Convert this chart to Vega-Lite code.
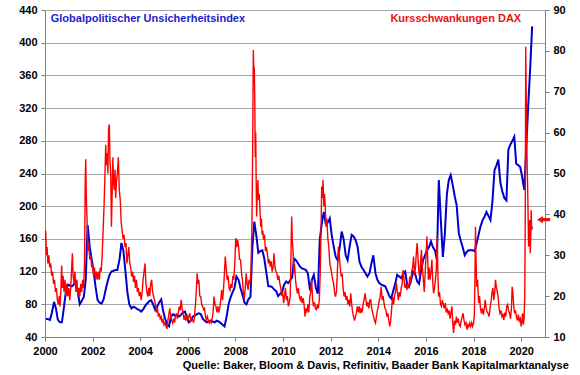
{
"$schema":"https://vega.github.io/schema/vega-lite/v6.json",
"width":500,"height":327,
"autosize":{"type":"none"},
"padding":{"left":45,"top":10,"right":35,"bottom":38},
"background":"white",
"config":{"view":{"stroke":null},"font":"Liberation Sans","axis":{"labelFont":"Liberation Sans","labelFontWeight":"bold","labelFontSize":11,"labelColor":"#000000","tickColor":"#808080","domainColor":"#808080","tickSize":4,"labelPadding":4,"labelOverlap":false,"title":null}},
"datasets":{
"gepu":[
{"t":2000.04,"u":62},{"t":2000.12,"u":62},{"t":2000.21,"u":61},{"t":2000.29,"u":70},{"t":2000.38,"u":83},{"t":2000.46,"u":75},{"t":2000.54,"u":61},{"t":2000.63,"u":58},{"t":2000.71,"u":58},{"t":2000.79,"u":75},{"t":2000.88,"u":96},{"t":2000.96,"u":104},
{"t":2001.04,"u":103},{"t":2001.13,"u":102},{"t":2001.21,"u":104},{"t":2001.29,"u":108},{"t":2001.38,"u":95},{"t":2001.46,"u":80},{"t":2001.54,"u":84},{"t":2001.63,"u":89},{"t":2001.71,"u":110},{"t":2001.79,"u":177},{"t":2001.88,"u":150},{"t":2001.96,"u":135},
{"t":2002.04,"u":120},{"t":2002.13,"u":100},{"t":2002.21,"u":85},{"t":2002.29,"u":82},{"t":2002.38,"u":81},{"t":2002.46,"u":86},{"t":2002.54,"u":97},{"t":2002.63,"u":108},{"t":2002.71,"u":116},{"t":2002.79,"u":120},{"t":2002.88,"u":121},{"t":2002.96,"u":122},
{"t":2003.04,"u":122},{"t":2003.13,"u":135},{"t":2003.21,"u":155},{"t":2003.29,"u":146},{"t":2003.38,"u":120},{"t":2003.46,"u":95},{"t":2003.54,"u":80},{"t":2003.63,"u":75},{"t":2003.71,"u":77},{"t":2003.79,"u":76},{"t":2003.88,"u":74},{"t":2003.96,"u":73},
{"t":2004.04,"u":71},{"t":2004.13,"u":74},{"t":2004.21,"u":78},{"t":2004.29,"u":81},{"t":2004.38,"u":84},{"t":2004.46,"u":85},{"t":2004.54,"u":80},{"t":2004.63,"u":73},{"t":2004.71,"u":77},{"t":2004.79,"u":82},{"t":2004.88,"u":86},{"t":2004.96,"u":72},
{"t":2005.04,"u":63},{"t":2005.13,"u":55},{"t":2005.21,"u":53},{"t":2005.29,"u":65},{"t":2005.38,"u":68},{"t":2005.46,"u":66},{"t":2005.54,"u":67},{"t":2005.63,"u":65},{"t":2005.71,"u":67},{"t":2005.79,"u":70},{"t":2005.88,"u":71},{"t":2005.96,"u":64},
{"t":2006.04,"u":58},{"t":2006.13,"u":60},{"t":2006.21,"u":65},{"t":2006.29,"u":66},{"t":2006.38,"u":68},{"t":2006.46,"u":69},{"t":2006.54,"u":68},{"t":2006.63,"u":62},{"t":2006.71,"u":60},{"t":2006.79,"u":58},{"t":2006.88,"u":59},{"t":2006.96,"u":60},
{"t":2007.04,"u":59},{"t":2007.13,"u":58},{"t":2007.21,"u":60},{"t":2007.29,"u":59},{"t":2007.38,"u":57},{"t":2007.46,"u":55},{"t":2007.54,"u":53},{"t":2007.63,"u":65},{"t":2007.71,"u":80},{"t":2007.79,"u":88},{"t":2007.88,"u":95},{"t":2007.96,"u":100},
{"t":2008.04,"u":114},{"t":2008.13,"u":110},{"t":2008.21,"u":100},{"t":2008.29,"u":92},{"t":2008.38,"u":82},{"t":2008.46,"u":80},{"t":2008.54,"u":86},{"t":2008.63,"u":89},{"t":2008.71,"u":150},{"t":2008.79,"u":181},{"t":2008.88,"u":163},{"t":2008.96,"u":143},
{"t":2009.04,"u":145},{"t":2009.13,"u":146},{"t":2009.21,"u":136},{"t":2009.29,"u":120},{"t":2009.38,"u":102},{"t":2009.46,"u":102},{"t":2009.54,"u":101},{"t":2009.63,"u":98},{"t":2009.71,"u":96},{"t":2009.79,"u":90},{"t":2009.88,"u":93},{"t":2009.96,"u":95},
{"t":2010.04,"u":104},{"t":2010.13,"u":108},{"t":2010.21,"u":106},{"t":2010.29,"u":109},{"t":2010.38,"u":113},{"t":2010.46,"u":136},{"t":2010.54,"u":134},{"t":2010.63,"u":130},{"t":2010.71,"u":126},{"t":2010.79,"u":124},{"t":2010.88,"u":123},{"t":2010.96,"u":122},
{"t":2011.04,"u":118},{"t":2011.13,"u":97},{"t":2011.21,"u":110},{"t":2011.29,"u":116},{"t":2011.38,"u":100},{"t":2011.46,"u":93},{"t":2011.54,"u":159},{"t":2011.63,"u":180},{"t":2011.71,"u":193},{"t":2011.79,"u":179},{"t":2011.88,"u":180},{"t":2011.96,"u":185},
{"t":2012.04,"u":165},{"t":2012.13,"u":150},{"t":2012.21,"u":138},{"t":2012.29,"u":134},{"t":2012.38,"u":150},{"t":2012.46,"u":169},{"t":2012.54,"u":160},{"t":2012.63,"u":140},{"t":2012.71,"u":134},{"t":2012.79,"u":150},{"t":2012.88,"u":165},{"t":2012.96,"u":163},
{"t":2013.04,"u":159},{"t":2013.13,"u":150},{"t":2013.21,"u":132},{"t":2013.29,"u":126},{"t":2013.38,"u":122},{"t":2013.46,"u":118},{"t":2013.54,"u":114},{"t":2013.63,"u":118},{"t":2013.71,"u":130},{"t":2013.79,"u":140},{"t":2013.88,"u":118},{"t":2013.96,"u":110},
{"t":2014.04,"u":106},{"t":2014.13,"u":104},{"t":2014.21,"u":103},{"t":2014.29,"u":102},{"t":2014.38,"u":96},{"t":2014.46,"u":90},{"t":2014.54,"u":87},{"t":2014.63,"u":97},{"t":2014.71,"u":105},{"t":2014.79,"u":116},{"t":2014.88,"u":114},{"t":2014.96,"u":112},
{"t":2015.04,"u":117},{"t":2015.13,"u":120},{"t":2015.21,"u":104},{"t":2015.29,"u":101},{"t":2015.38,"u":110},{"t":2015.46,"u":120},{"t":2015.54,"u":118},{"t":2015.63,"u":108},{"t":2015.71,"u":105},{"t":2015.79,"u":120},{"t":2015.88,"u":134},{"t":2015.96,"u":140},
{"t":2016.04,"u":146},{"t":2016.13,"u":150},{"t":2016.21,"u":157},{"t":2016.29,"u":150},{"t":2016.38,"u":146},{"t":2016.46,"u":134},{"t":2016.54,"u":232},{"t":2016.63,"u":180},{"t":2016.71,"u":138},{"t":2016.79,"u":165},{"t":2016.88,"u":215},{"t":2016.96,"u":232},
{"t":2017.04,"u":238},{"t":2017.13,"u":225},{"t":2017.21,"u":212},{"t":2017.29,"u":201},{"t":2017.38,"u":167},{"t":2017.46,"u":158},{"t":2017.54,"u":150},{"t":2017.63,"u":140},{"t":2017.71,"u":144},{"t":2017.79,"u":146},{"t":2017.88,"u":146},{"t":2017.96,"u":146},
{"t":2018.04,"u":145},{"t":2018.13,"u":155},{"t":2018.21,"u":165},{"t":2018.29,"u":175},{"t":2018.38,"u":183},{"t":2018.46,"u":187},{"t":2018.54,"u":193},{"t":2018.63,"u":188},{"t":2018.71,"u":183},{"t":2018.79,"u":205},{"t":2018.88,"u":244},{"t":2018.96,"u":250},
{"t":2019.04,"u":257},{"t":2019.13,"u":228},{"t":2019.21,"u":218},{"t":2019.29,"u":210},{"t":2019.38,"u":207},{"t":2019.46,"u":269},{"t":2019.54,"u":275},{"t":2019.63,"u":280},{"t":2019.71,"u":285},{"t":2019.79,"u":252},{"t":2019.88,"u":250},{"t":2019.96,"u":248},
{"t":2020.04,"u":236},{"t":2020.13,"u":220},{"t":2020.21,"u":270},{"t":2020.29,"u":320},{"t":2020.38,"u":370},{"t":2020.46,"u":420}
],
"vdax":[
{"t":2000.00,"v":34},{"t":2000.03,"v":36},{"t":2000.06,"v":30},{"t":2000.09,"v":32},{"t":2000.12,"v":28},{"t":2000.16,"v":30},{"t":2000.20,"v":27},{"t":2000.24,"v":28},{"t":2000.28,"v":25},{"t":2000.32,"v":26},{"t":2000.36,"v":23},{"t":2000.40,"v":24},{"t":2000.44,"v":21},{"t":2000.48,"v":22},{"t":2000.52,"v":19},{"t":2000.56,"v":18},{"t":2000.60,"v":20},{"t":2000.63,"v":17.5},{"t":2000.67,"v":22},{"t":2000.70,"v":27.5},{"t":2000.73,"v":22},{"t":2000.76,"v":25},{"t":2000.80,"v":21},{"t":2000.84,"v":24},{"t":2000.88,"v":20},{"t":2000.92,"v":23},{"t":2000.96,"v":20},
{"t":2001.00,"v":22},{"t":2001.04,"v":19},{"t":2001.08,"v":22},{"t":2001.12,"v":27},{"t":2001.15,"v":30.5},{"t":2001.18,"v":25},{"t":2001.22,"v":23},{"t":2001.26,"v":26},{"t":2001.30,"v":21},{"t":2001.34,"v":24},{"t":2001.38,"v":20},{"t":2001.42,"v":22},{"t":2001.46,"v":20},{"t":2001.50,"v":23},{"t":2001.54,"v":21},{"t":2001.58,"v":24},{"t":2001.62,"v":22},{"t":2001.66,"v":28},{"t":2001.69,"v":48},{"t":2001.71,"v":53.5},{"t":2001.74,"v":43},{"t":2001.77,"v":38},{"t":2001.80,"v":31},{"t":2001.84,"v":33},{"t":2001.88,"v":29},{"t":2001.92,"v":30},{"t":2001.96,"v":27},
{"t":2002.00,"v":28},{"t":2002.04,"v":25},{"t":2002.08,"v":27},{"t":2002.12,"v":24},{"t":2002.16,"v":26},{"t":2002.20,"v":24},{"t":2002.24,"v":26},{"t":2002.28,"v":24},{"t":2002.32,"v":27},{"t":2002.36,"v":26},{"t":2002.40,"v":30},{"t":2002.44,"v":36},{"t":2002.48,"v":42},{"t":2002.52,"v":50},{"t":2002.55,"v":57},{"t":2002.58,"v":52},{"t":2002.61,"v":55},{"t":2002.64,"v":50},{"t":2002.67,"v":61},{"t":2002.70,"v":62},{"t":2002.73,"v":53},{"t":2002.76,"v":50},{"t":2002.79,"v":37},{"t":2002.82,"v":45},{"t":2002.85,"v":54},{"t":2002.88,"v":48},{"t":2002.91,"v":46},{"t":2002.94,"v":51},{"t":2002.97,"v":44},
{"t":2003.00,"v":48},{"t":2003.04,"v":50},{"t":2003.08,"v":54},{"t":2003.12,"v":46},{"t":2003.16,"v":43.5},{"t":2003.20,"v":38},{"t":2003.24,"v":36},{"t":2003.28,"v":34},{"t":2003.32,"v":35},{"t":2003.36,"v":32},{"t":2003.40,"v":33},{"t":2003.44,"v":28},{"t":2003.48,"v":30},{"t":2003.52,"v":32},{"t":2003.56,"v":28},{"t":2003.60,"v":27},{"t":2003.64,"v":24.8},{"t":2003.68,"v":26},{"t":2003.72,"v":23.5},{"t":2003.76,"v":25},{"t":2003.80,"v":22},{"t":2003.84,"v":24},{"t":2003.88,"v":21},{"t":2003.92,"v":22},{"t":2003.96,"v":20},
{"t":2004.00,"v":21},{"t":2004.04,"v":19},{"t":2004.08,"v":21},{"t":2004.12,"v":24},{"t":2004.16,"v":26},{"t":2004.20,"v":28},{"t":2004.24,"v":23},{"t":2004.28,"v":21},{"t":2004.32,"v":19.9},{"t":2004.36,"v":22},{"t":2004.40,"v":20},{"t":2004.44,"v":23},{"t":2004.48,"v":24},{"t":2004.52,"v":21},{"t":2004.56,"v":20},{"t":2004.60,"v":19},{"t":2004.64,"v":18},{"t":2004.68,"v":16},{"t":2004.72,"v":17},{"t":2004.76,"v":15},{"t":2004.80,"v":15.8},{"t":2004.84,"v":14.5},{"t":2004.88,"v":15},{"t":2004.92,"v":13.5},{"t":2004.96,"v":14.2},
{"t":2005.00,"v":13},{"t":2005.04,"v":13.5},{"t":2005.08,"v":12.6},{"t":2005.12,"v":12},{"t":2005.16,"v":14},{"t":2005.20,"v":15.5},{"t":2005.24,"v":17},{"t":2005.28,"v":15},{"t":2005.32,"v":14},{"t":2005.36,"v":13.4},{"t":2005.40,"v":14.5},{"t":2005.44,"v":13.5},{"t":2005.48,"v":15},{"t":2005.52,"v":15.8},{"t":2005.56,"v":14.5},{"t":2005.60,"v":16},{"t":2005.64,"v":17.5},{"t":2005.68,"v":16.5},{"t":2005.72,"v":19.1},{"t":2005.76,"v":17},{"t":2005.80,"v":16},{"t":2005.84,"v":14.2},{"t":2005.88,"v":15},{"t":2005.92,"v":14},{"t":2005.96,"v":15.5},
{"t":2006.00,"v":14.5},{"t":2006.04,"v":15},{"t":2006.08,"v":15.8},{"t":2006.12,"v":14},{"t":2006.16,"v":14.5},{"t":2006.20,"v":14.2},{"t":2006.24,"v":13.5},{"t":2006.28,"v":15},{"t":2006.32,"v":18},{"t":2006.36,"v":22},{"t":2006.39,"v":25.6},{"t":2006.42,"v":23},{"t":2006.46,"v":24},{"t":2006.50,"v":20},{"t":2006.54,"v":19.9},{"t":2006.58,"v":18},{"t":2006.62,"v":17.5},{"t":2006.66,"v":16.7},{"t":2006.70,"v":17},{"t":2006.74,"v":15},{"t":2006.78,"v":14.2},{"t":2006.82,"v":15},{"t":2006.86,"v":14},{"t":2006.90,"v":13.4},{"t":2006.94,"v":14},{"t":2006.98,"v":13.5},
{"t":2007.02,"v":14.5},{"t":2007.06,"v":16},{"t":2007.10,"v":19.9},{"t":2007.14,"v":18},{"t":2007.18,"v":17.5},{"t":2007.22,"v":16},{"t":2007.26,"v":17.5},{"t":2007.30,"v":16},{"t":2007.34,"v":17},{"t":2007.38,"v":19},{"t":2007.42,"v":21.5},{"t":2007.46,"v":19},{"t":2007.50,"v":22},{"t":2007.54,"v":26},{"t":2007.57,"v":29.7},{"t":2007.61,"v":27},{"t":2007.65,"v":24},{"t":2007.69,"v":25},{"t":2007.73,"v":22},{"t":2007.77,"v":21.5},{"t":2007.81,"v":23},{"t":2007.85,"v":22},{"t":2007.89,"v":25},{"t":2007.93,"v":24},{"t":2007.97,"v":28},
{"t":2008.01,"v":34.2},{"t":2008.05,"v":32},{"t":2008.09,"v":33.8},{"t":2008.13,"v":32.1},{"t":2008.17,"v":29},{"t":2008.21,"v":28.9},{"t":2008.25,"v":26},{"t":2008.29,"v":24},{"t":2008.33,"v":21},{"t":2008.37,"v":19.1},{"t":2008.41,"v":22},{"t":2008.45,"v":25.6},{"t":2008.49,"v":23},{"t":2008.53,"v":21.5},{"t":2008.57,"v":24},{"t":2008.61,"v":23},{"t":2008.65,"v":26},{"t":2008.69,"v":37},{"t":2008.72,"v":55},{"t":2008.75,"v":80.2},{"t":2008.77,"v":74.5},{"t":2008.79,"v":76},{"t":2008.81,"v":68},{"t":2008.83,"v":54},{"t":2008.85,"v":60},{"t":2008.87,"v":48},{"t":2008.89,"v":39.5},{"t":2008.91,"v":45},{"t":2008.94,"v":48.4},{"t":2008.97,"v":43.5},
{"t":2009.00,"v":45},{"t":2009.03,"v":41},{"t":2009.06,"v":37},{"t":2009.09,"v":39},{"t":2009.12,"v":35},{"t":2009.15,"v":36},{"t":2009.18,"v":33.8},{"t":2009.22,"v":35},{"t":2009.26,"v":31},{"t":2009.30,"v":32},{"t":2009.34,"v":30.5},{"t":2009.38,"v":28},{"t":2009.42,"v":29},{"t":2009.46,"v":27.2},{"t":2009.50,"v":28.5},{"t":2009.54,"v":26},{"t":2009.58,"v":27},{"t":2009.62,"v":30.5},{"t":2009.66,"v":27},{"t":2009.70,"v":26},{"t":2009.74,"v":25.6},{"t":2009.78,"v":24},{"t":2009.82,"v":25},{"t":2009.86,"v":23.2},{"t":2009.90,"v":22},{"t":2009.94,"v":20},{"t":2009.98,"v":21},
{"t":2010.02,"v":18.3},{"t":2010.06,"v":20},{"t":2010.10,"v":22},{"t":2010.14,"v":19},{"t":2010.18,"v":20},{"t":2010.22,"v":17.5},{"t":2010.26,"v":18.5},{"t":2010.30,"v":20},{"t":2010.33,"v":30},{"t":2010.36,"v":39.5},{"t":2010.39,"v":33},{"t":2010.42,"v":31},{"t":2010.45,"v":25.6},{"t":2010.48,"v":28},{"t":2010.52,"v":24},{"t":2010.56,"v":22},{"t":2010.60,"v":20.7},{"t":2010.64,"v":22},{"t":2010.68,"v":20},{"t":2010.72,"v":19.1},{"t":2010.76,"v":20},{"t":2010.80,"v":18.3},{"t":2010.84,"v":19.5},{"t":2010.88,"v":18},{"t":2010.92,"v":15},{"t":2010.96,"v":17},
{"t":2011.00,"v":16},{"t":2011.04,"v":18},{"t":2011.08,"v":16},{"t":2011.12,"v":19.9},{"t":2011.16,"v":21},{"t":2011.20,"v":24},{"t":2011.24,"v":19},{"t":2011.28,"v":17.5},{"t":2011.32,"v":18.5},{"t":2011.36,"v":17},{"t":2011.40,"v":16.7},{"t":2011.44,"v":18},{"t":2011.48,"v":17},{"t":2011.52,"v":19},{"t":2011.56,"v":25.6},{"t":2011.60,"v":38},{"t":2011.62,"v":46.8},{"t":2011.65,"v":44},{"t":2011.68,"v":48.4},{"t":2011.71,"v":42},{"t":2011.74,"v":45},{"t":2011.77,"v":41.9},{"t":2011.80,"v":37},{"t":2011.84,"v":39},{"t":2011.88,"v":34},{"t":2011.92,"v":32.1},{"t":2011.96,"v":28.1},
{"t":2012.00,"v":27},{"t":2012.04,"v":25.6},{"t":2012.08,"v":24},{"t":2012.12,"v":23.2},{"t":2012.16,"v":21},{"t":2012.20,"v":19.9},{"t":2012.24,"v":21},{"t":2012.28,"v":26},{"t":2012.32,"v":32.1},{"t":2012.36,"v":30},{"t":2012.40,"v":27},{"t":2012.44,"v":24.8},{"t":2012.48,"v":25.5},{"t":2012.52,"v":22},{"t":2012.56,"v":19.9},{"t":2012.60,"v":21},{"t":2012.64,"v":19.1},{"t":2012.68,"v":20},{"t":2012.72,"v":18},{"t":2012.76,"v":19.1},{"t":2012.80,"v":17.5},{"t":2012.84,"v":20.7},{"t":2012.88,"v":18},{"t":2012.92,"v":16},{"t":2012.96,"v":15},
{"t":2013.00,"v":14},{"t":2013.04,"v":15},{"t":2013.08,"v":16},{"t":2013.12,"v":17.5},{"t":2013.16,"v":16},{"t":2013.20,"v":17.5},{"t":2013.24,"v":15.8},{"t":2013.28,"v":17},{"t":2013.32,"v":16},{"t":2013.36,"v":18},{"t":2013.40,"v":19},{"t":2013.44,"v":20.7},{"t":2013.48,"v":19},{"t":2013.52,"v":17.5},{"t":2013.56,"v":18.5},{"t":2013.60,"v":17},{"t":2013.64,"v":19},{"t":2013.68,"v":19.1},{"t":2013.72,"v":17},{"t":2013.76,"v":16},{"t":2013.80,"v":15},{"t":2013.84,"v":14},{"t":2013.88,"v":13.4},{"t":2013.92,"v":15},{"t":2013.96,"v":16.5},
{"t":2014.00,"v":17.5},{"t":2014.04,"v":19},{"t":2014.08,"v":20},{"t":2014.12,"v":22.3},{"t":2014.16,"v":19},{"t":2014.20,"v":20},{"t":2014.24,"v":18.3},{"t":2014.28,"v":17},{"t":2014.32,"v":16.5},{"t":2014.36,"v":15},{"t":2014.40,"v":15.8},{"t":2014.44,"v":14},{"t":2014.48,"v":12.6},{"t":2014.52,"v":14},{"t":2014.56,"v":17},{"t":2014.60,"v":19.9},{"t":2014.64,"v":18},{"t":2014.68,"v":20},{"t":2014.72,"v":21},{"t":2014.76,"v":23.2},{"t":2014.80,"v":21},{"t":2014.84,"v":19},{"t":2014.88,"v":21},{"t":2014.92,"v":19.9},{"t":2014.96,"v":22},
{"t":2015.00,"v":23},{"t":2015.04,"v":26.4},{"t":2015.08,"v":24},{"t":2015.12,"v":22},{"t":2015.16,"v":23},{"t":2015.20,"v":21.5},{"t":2015.24,"v":23},{"t":2015.28,"v":22},{"t":2015.32,"v":24.8},{"t":2015.36,"v":23},{"t":2015.40,"v":26},{"t":2015.44,"v":27},{"t":2015.48,"v":29.7},{"t":2015.52,"v":25},{"t":2015.56,"v":27},{"t":2015.60,"v":31},{"t":2015.63,"v":33},{"t":2015.66,"v":30},{"t":2015.70,"v":26},{"t":2015.73,"v":24.8},{"t":2015.77,"v":28},{"t":2015.81,"v":31.3},{"t":2015.85,"v":27},{"t":2015.89,"v":24},{"t":2015.93,"v":21},{"t":2015.97,"v":26},
{"t":2016.01,"v":30.5},{"t":2016.04,"v":34.6},{"t":2016.07,"v":30},{"t":2016.10,"v":24},{"t":2016.13,"v":27},{"t":2016.17,"v":24},{"t":2016.21,"v":26},{"t":2016.25,"v":28.9},{"t":2016.29,"v":23},{"t":2016.32,"v":20.7},{"t":2016.36,"v":22},{"t":2016.40,"v":24},{"t":2016.44,"v":27},{"t":2016.47,"v":34.6},{"t":2016.50,"v":26},{"t":2016.53,"v":19.9},{"t":2016.57,"v":21},{"t":2016.61,"v":18},{"t":2016.65,"v":17.5},{"t":2016.69,"v":19},{"t":2016.73,"v":18},{"t":2016.77,"v":17},{"t":2016.81,"v":18.3},{"t":2016.85,"v":16},{"t":2016.89,"v":17},{"t":2016.93,"v":15.8},{"t":2016.97,"v":16.5},
{"t":2017.01,"v":14.5},{"t":2017.05,"v":16},{"t":2017.09,"v":17.5},{"t":2017.13,"v":13},{"t":2017.16,"v":11},{"t":2017.20,"v":14},{"t":2017.24,"v":13},{"t":2017.28,"v":15},{"t":2017.32,"v":13.5},{"t":2017.36,"v":14.5},{"t":2017.40,"v":13},{"t":2017.44,"v":12.6},{"t":2017.48,"v":14},{"t":2017.52,"v":15},{"t":2017.56,"v":15.8},{"t":2017.60,"v":14},{"t":2017.64,"v":13},{"t":2017.68,"v":13.5},{"t":2017.72,"v":11.8},{"t":2017.76,"v":13},{"t":2017.80,"v":12.5},{"t":2017.84,"v":13.4},{"t":2017.88,"v":12.6},{"t":2017.92,"v":13.5},{"t":2017.96,"v":12.6},
{"t":2018.00,"v":13.5},{"t":2018.03,"v":15},{"t":2018.06,"v":25},{"t":2018.08,"v":37},{"t":2018.10,"v":30},{"t":2018.13,"v":22.3},{"t":2018.17,"v":24},{"t":2018.21,"v":18.3},{"t":2018.25,"v":20},{"t":2018.29,"v":17},{"t":2018.33,"v":15.8},{"t":2018.37,"v":17},{"t":2018.41,"v":15.5},{"t":2018.45,"v":17},{"t":2018.49,"v":19.1},{"t":2018.53,"v":17},{"t":2018.57,"v":16},{"t":2018.61,"v":15.8},{"t":2018.65,"v":15},{"t":2018.69,"v":17},{"t":2018.73,"v":18.5},{"t":2018.77,"v":20.7},{"t":2018.81,"v":22},{"t":2018.85,"v":19},{"t":2018.89,"v":21},{"t":2018.92,"v":24},{"t":2018.96,"v":22},
{"t":2019.00,"v":21},{"t":2019.03,"v":19.9},{"t":2019.07,"v":17},{"t":2019.11,"v":15.8},{"t":2019.15,"v":16.5},{"t":2019.19,"v":15},{"t":2019.23,"v":15.5},{"t":2019.27,"v":14.2},{"t":2019.31,"v":16},{"t":2019.35,"v":15},{"t":2019.39,"v":17.5},{"t":2019.43,"v":18},{"t":2019.47,"v":16.5},{"t":2019.51,"v":15.8},{"t":2019.55,"v":14.5},{"t":2019.59,"v":17},{"t":2019.62,"v":22.3},{"t":2019.65,"v":21},{"t":2019.68,"v":18},{"t":2019.72,"v":15.8},{"t":2019.76,"v":16.5},{"t":2019.80,"v":15},{"t":2019.84,"v":14},{"t":2019.88,"v":15.5},{"t":2019.92,"v":14},{"t":2019.96,"v":14.5},
{"t":2020.00,"v":12.6},{"t":2020.03,"v":14},{"t":2020.06,"v":15.8},{"t":2020.09,"v":13},{"t":2020.12,"v":14.5},{"t":2020.15,"v":20},{"t":2020.17,"v":38.7},{"t":2020.19,"v":81},{"t":2020.21,"v":70},{"t":2020.23,"v":59},{"t":2020.25,"v":52},{"t":2020.27,"v":46.8},{"t":2020.29,"v":40},{"t":2020.31,"v":32.1},{"t":2020.33,"v":36},{"t":2020.36,"v":38.7},{"t":2020.38,"v":30.5},{"t":2020.40,"v":34},{"t":2020.42,"v":41},{"t":2020.44,"v":36.2},{"t":2020.47,"v":37}
]
},
"layer":[
{"layer":[
{"data":{"name":"gepu"},"mark":{"type":"line","color":"#0000cc","strokeWidth":2,"clip":true},
"encoding":{
"x":{"field":"t","type":"quantitative","scale":{"domain":[2000,2021],"nice":false,"zero":false},"axis":{"values":[2000,2002,2004,2006,2008,2010,2012,2014,2016,2018,2020],"format":"d","grid":false,"labelFlush":false,"labelOverlap":false,"title":null}},
"y":{"field":"u","type":"quantitative","scale":{"domain":[40,440],"nice":false,"zero":false},"axis":{"orient":"left","values":[40,80,120,160,200,240,280,320,360,400,440],"tickCount":11,"labelOverlap":false,"grid":true,"gridColor":"#a6a6a6","gridWidth":1,"title":null}}}},
{"data":{"values":[{}]},"mark":{"type":"text","align":"left","baseline":"middle","font":"Liberation Sans","fontWeight":"bold","fontSize":11,"color":"#2222cc"},
"encoding":{"x":{"datum":2000.24},"y":{"datum":429},"text":{"value":"Globalpolitischer Unsicherheitsindex"}}},
{"data":{"values":[{}]},"mark":{"type":"text","align":"right","baseline":"middle","font":"Liberation Sans","fontWeight":"bold","fontSize":11,"color":"#000000"},
"encoding":{"x":{"datum":2022.0},"y":{"datum":4.5},"text":{"value":"Quelle: Baker, Bloom & Davis, Refinitiv, Baader Bank Kapitalmarktanalyse"}}}
]},
{"layer":[
{"data":{"name":"vdax"},"mark":{"type":"line","color":"#ff0000","strokeWidth":1.4,"clip":true},
"encoding":{
"x":{"field":"t","type":"quantitative"},
"y":{"field":"v","type":"quantitative","scale":{"domain":[10,90],"nice":false,"zero":false},"axis":{"orient":"right","values":[10,20,30,40,50,60,70,80,90],"labelOverlap":false,"grid":false,"title":null}}}},
{"data":{"values":[{}]},"mark":{"type":"text","align":"right","baseline":"middle","font":"Liberation Sans","fontWeight":"bold","fontSize":11,"color":"#ee1111"},
"encoding":{"x":{"datum":2020.0},"y":{"datum":87.8},"text":{"value":"Kursschwankungen DAX"}}},
{"data":{"values":[{}]},"mark":{"type":"point","filled":true,"color":"#ee1111","opacity":1,"size":169,"shape":"M -1 0 L -0.1 -0.55 L -0.1 -0.25 L 1 -0.25 L 1 0.25 L -0.1 0.25 L -0.1 0.55 Z"},
"encoding":{"x":{"datum":2020.94},"y":{"datum":38.7}}}
]}
],
"resolve":{"scale":{"y":"independent"}}
}
